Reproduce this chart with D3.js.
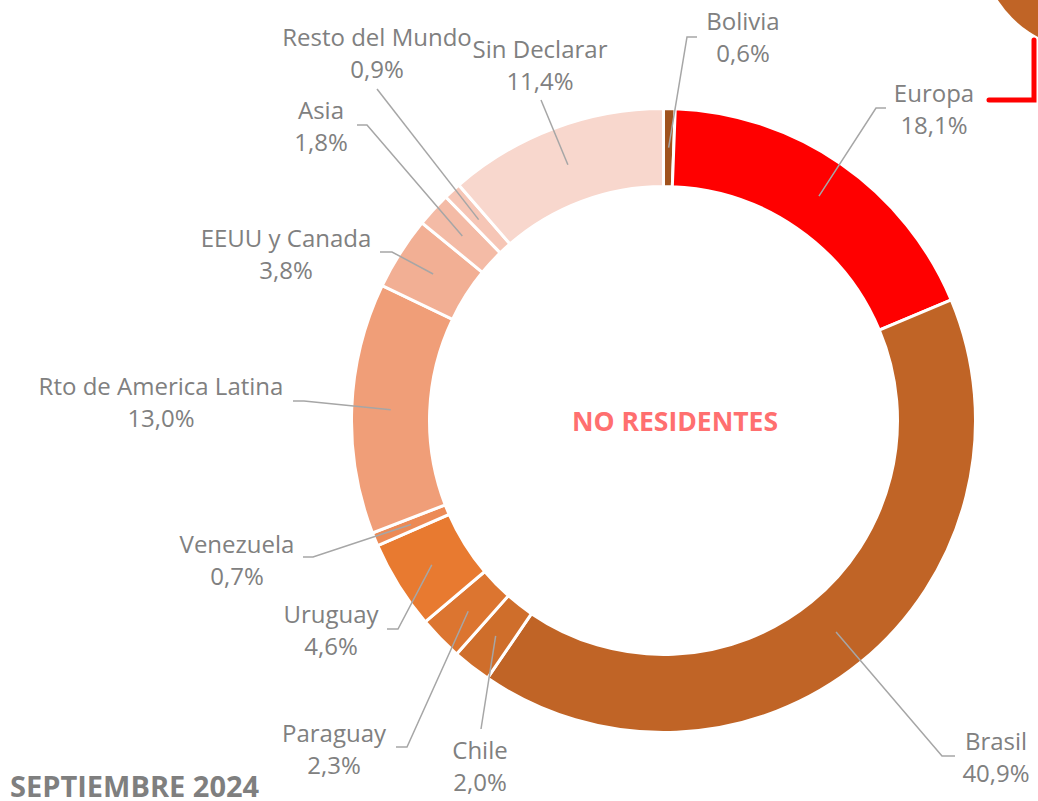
<!DOCTYPE html>
<html>
<head>
<meta charset="utf-8">
<script src="https://cdn.jsdelivr.net/npm/d3@7"></script>
<style>
  body { margin: 0; background: #fff; }
  svg { display: block; font-family: "Open Sans", sans-serif; }
</style>
</head>
<body>
<script>
// data
var regions = ["Bolivia", "Europa", "Brasil", "Chile", "Paraguay", "Uruguay", "Venezuela",
  "Rto de America Latina", "EEUU y Canada", "Asia", "Resto del Mundo", "Sin Declarar"];
var shares = [0.6, 18.1, 40.9, 2.0, 2.3, 4.6, 0.7, 13.0, 3.8, 1.8, 0.9, 11.4];
var colors = ["#A0521D", "#FF0000", "#C06426", "#CF6E2B", "#DC7530", "#E87A30", "#EC8A55",
  "#F09E78", "#F2AF94", "#F4BBA6", "#F6C6B6", "#F8D7CD"];

// label layout: elbow point, end of leader, text centre (x, y of first line)
var labelLayout = [
  { elbow: [687, 37],  end: [697, 37],  text: [743, 21] },
  { elbow: [876, 108], end: [886, 108], text: [934, 93] },
  { elbow: [942, 756], end: [955, 756], text: [996, 741] },
  { elbow: [481, 729], end: [481, 729], text: [480, 750] },
  { elbow: [407, 747], end: [396, 747], text: [334, 733] },
  { elbow: [398, 629], end: [387, 629], text: [331, 614] },
  { elbow: [313, 557], end: [303, 557], text: [237, 544] },
  { elbow: [304, 401], end: [293, 401], text: [161, 386] },
  { elbow: [392, 252], end: [380, 252], text: [286, 238] },
  { elbow: [367, 125], end: [357, 125], text: [321, 110] },
  { elbow: [377, 89],  end: [377, 89],  text: [377, 37] },
  { elbow: [541, 100], end: [541, 100], text: [540, 49] }
];

var width = 1038, height = 801;
var cx = 663.5, cy = 420.5, outerR = 312, innerR = 234;

var svg = d3.select("body").append("svg")
  .attr("width", width)
  .attr("height", height);

// decoration in the top right corner
svg.append("circle")
  .attr("cx", 1090).attr("cy", -60).attr("r", 110)
  .attr("fill", "#C06426");
svg.append("path")
  .attr("d", "M1034,40 L1034,100 L989,100")
  .attr("fill", "none")
  .attr("stroke", "#FF0000")
  .attr("stroke-width", 5)
  .attr("stroke-linecap", "round");

var table = regions.map(function (r, i) {
  return { name: r, value: shares[i], color: colors[i], layout: labelLayout[i] };
});

var pie = d3.pie()
  .value(function (d) { return d.value; })
  .sort(null);

var arc = d3.arc()
  .innerRadius(innerR)
  .outerRadius(outerR);

var g = svg.append("g")
  .attr("transform", "translate(" + cx + "," + cy + ")");

var arcs = pie(table);

g.selectAll("path.slice")
  .data(arcs)
  .enter()
  .append("path")
  .attr("class", "slice")
  .attr("d", arc)
  .attr("fill", function (d) { return d.data.color; })
  .attr("stroke", "#fff")
  .attr("stroke-width", 3);

// leader lines
var fmt = function (v) { return d3.format(".1f")(v).replace(".", ",") + "%"; };

svg.selectAll("polyline.leader")
  .data(arcs)
  .enter()
  .append("polyline")
  .attr("class", "leader")
  .attr("points", function (d) {
    var c = arc.centroid(d);
    var L = d.data.layout;
    return [[c[0] + cx, c[1] + cy], L.elbow, L.end].map(function (p) { return p.join(","); }).join(" ");
  })
  .attr("fill", "none")
  .attr("stroke", "#A6A6A6")
  .attr("stroke-width", 1.5);

var labels = svg.selectAll("text.lbl")
  .data(arcs)
  .enter()
  .append("text")
  .attr("class", "lbl")
  .attr("text-anchor", "middle")
  .attr("fill", "#808080")
  .style("font-size", "24px");

labels.append("tspan")
  .attr("x", function (d) { return d.data.layout.text[0]; })
  .attr("y", function (d) { return d.data.layout.text[1] + 9; })
  .text(function (d) { return d.data.name; });

labels.append("tspan")
  .attr("x", function (d) { return d.data.layout.text[0]; })
  .attr("y", function (d) { return d.data.layout.text[1] + 41; })
  .text(function (d) { return fmt(d.data.value); });

// centre title
svg.append("text")
  .attr("x", 675).attr("y", 431)
  .attr("text-anchor", "middle")
  .attr("fill", "#FF6F6F")
  .style("font-size", "26.5px")
  .style("font-weight", "bold")
  .text("NO RESIDENTES");

// date
svg.append("text")
  .attr("x", 10).attr("y", 797)
  .attr("fill", "#7F7F7F")
  .style("font-size", "29px")
  .style("font-weight", "bold")
  .text("SEPTIEMBRE 2024");
</script>
</body>
</html>
